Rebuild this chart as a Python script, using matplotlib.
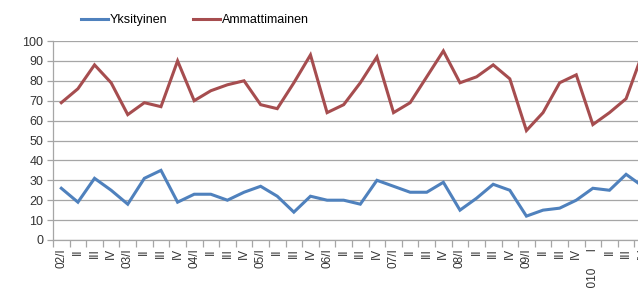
import numpy as np
import matplotlib
matplotlib.use('Agg')
import matplotlib.pyplot as plt

plt.rcParams['font.family'] = ['Liberation Sans', 'DejaVu Sans']

# quarters 2002/I .. 2010/IV
labels = []
for yr in ['02', '03', '04', '05', '06', '07', '08', '09']:
    labels += [yr + '/I', 'II', 'III', 'IV']
labels += ['2010     I', 'II', 'III', 'IV']

yksityinen = [26, 19, 31, 25, 18, 31, 35, 19,
              23, 23, 20, 24, 27, 22, 14, 22,
              20, 20, 18, 30, 27, 24, 24, 29,
              15, 21, 28, 25, 12, 15, 16, 20,
              26, 25, 33, 27]
ammattimainen = [69, 76, 88, 79, 63, 69, 67, 90,
                 70, 75, 78, 80, 68, 66, 79, 93,
                 64, 68, 79, 92, 64, 69, 82, 95,
                 79, 82, 88, 81, 55, 64, 79, 83,
                 58, 64, 71, 94]

W, H = 638, 289
fig = plt.figure(figsize=(W / 100, H / 100), dpi=100)
# plot area runs past the right edge, like the cropped original
ax = fig.add_axes([53 / W, (H - 240) / H, 598 / W, 199 / H])

x = np.arange(len(labels))
ax.plot(x, yksityinen, color='#4F81BD', lw=2.2, label='Yksityinen', solid_joinstyle='miter')
ax.plot(x, ammattimainen, color='#A64D4F', lw=2.2, label='Ammattimainen', solid_joinstyle='miter')

ax.set_xlim(-0.5, len(labels) - 0.5)
ax.set_ylim(0, 100)
ax.set_yticks(range(0, 101, 10))
ax.grid(axis='y', color='#a6a6a6', lw=0.9)
ax.set_axisbelow(True)

ax.set_xticks(x)
ax.set_xticklabels(labels, rotation=90, fontsize=8.5, color='#333333')
ax.set_xticks(np.arange(-0.5, len(labels), 1), minor=True)
ax.tick_params(axis='x', which='major', length=0, pad=6)
ax.tick_params(axis='x', which='minor', length=5, color='#a6a6a6', width=0.9)
ax.tick_params(axis='y', length=4, color='#a6a6a6', width=0.9, labelsize=9,
               labelcolor='#333333', pad=3)

for s in ['top', 'right']:
    ax.spines[s].set_visible(False)
for s in ['left', 'bottom']:
    ax.spines[s].set_color('#a6a6a6')
    ax.spines[s].set_linewidth(0.9)

ax.legend(loc='center', bbox_to_anchor=(195 / W, 1 - 20 / H), bbox_transform=fig.transFigure,
          ncol=2, frameon=False, fontsize=9, handlelength=2.1, handletextpad=0.15,
          columnspacing=2.1, borderpad=0)

fig.savefig('out.png', dpi=100)
